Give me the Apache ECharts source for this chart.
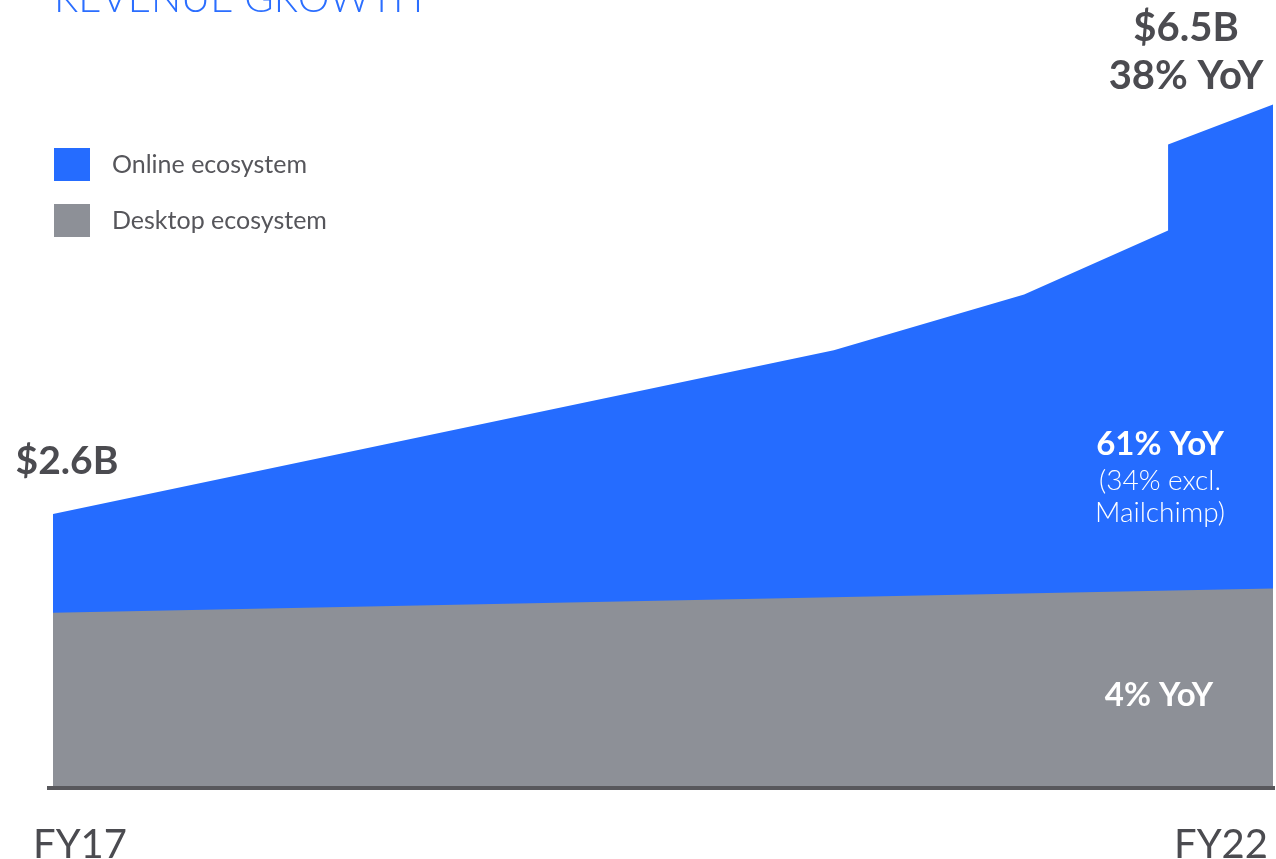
<!DOCTYPE html>
<html>
<head>
<meta charset="utf-8">
<title>Revenue Growth</title>
<script src="https://cdn.jsdelivr.net/npm/echarts@6/dist/echarts.min.js"></script>
<style>
  html, body { margin: 0; padding: 0; background: #ffffff; }
  #chart { width: 1276px; height: 859px; }
</style>
</head>
<body>
<div id="chart"></div>
<script>
// Fiscal-year positions of the outline points (two points share FY21.57: the Mailchimp step)
const fiscalYears = [2017.0, 2020.2, 2020.98, 2021.57, 2021.57, 2022.0];
// Total revenue ($B): online + desktop stacked
const totalRevenue = [2.6, 4.16, 4.69, 5.30, 6.12, 6.5];
// Desktop ecosystem revenue ($B)
const desktopYears = [2017.0, 2022.0];
const desktopRevenue = [1.66, 1.89];
// Axis tick labels
const tickLabels = ['FY17', 'FY22'];
const tickPositions = [80, 1221];

const BLUE = '#256cff';
const GRAY = '#8d9097';
const INK = '#4b4b50';
const FONT = 'Lato, "Noto Sans", sans-serif';

const totalData = fiscalYears.map((x, i) => {
  const item = { value: [x, totalRevenue[i]] };
  if (i === 0) {
    item.label = {
      show: true, position: 'top', offset: [14, -28],
      formatter: p => '$' + p.value[1].toFixed(1) + 'B',
      fontFamily: FONT, fontSize: 39, fontWeight: 700, color: INK
    };
  }
  if (i === fiscalYears.length - 1) {
    item.label = {
      show: true, position: 'top', offset: [-87, 1],
      formatter: p => '$' + p.value[1].toFixed(1) + 'B\n38% YoY',
      fontFamily: FONT, fontSize: 40, fontWeight: 700, color: INK,
      lineHeight: 48, align: 'center'
    };
  }
  return item;
});
const desktopData = desktopYears.map((x, i) => [x, desktopRevenue[i]]);

const chart = echarts.init(document.getElementById('chart'), null, { renderer: 'canvas' });

chart.setOption({
  backgroundColor: '#ffffff',
  animation: false,
  grid: { left: 53, right: 3, top: 52, bottom: 72, containLabel: false },
  xAxis: {
    type: 'value', min: 2017, max: 2022,
    axisLine: { show: false }, axisTick: { show: false },
    axisLabel: { show: false }, splitLine: { show: false }
  },
  yAxis: {
    type: 'value', min: 0, max: 7,
    axisLine: { show: false }, axisTick: { show: false },
    axisLabel: { show: false }, splitLine: { show: false }
  },
  legend: {
    data: ['Online ecosystem', 'Desktop ecosystem'],
    orient: 'vertical', left: 54, top: 148, padding: 0,
    icon: 'rect', itemWidth: 36, itemHeight: 33, itemGap: 23,
    textStyle: { fontFamily: FONT, fontSize: 25, color: '#56565b', padding: [6, 0, 0, 17] },
    selectedMode: false
  },
  series: [
    {
      name: 'Online ecosystem', type: 'line', data: totalData,
      symbol: 'circle', symbolSize: 0, showSymbol: true,
      lineStyle: { width: 0 },
      itemStyle: { color: BLUE },
      areaStyle: { color: BLUE, opacity: 1 },
      z: 2
    },
    {
      name: 'Desktop ecosystem', type: 'line', data: desktopData,
      symbol: 'none', lineStyle: { width: 0 },
      itemStyle: { color: GRAY },
      areaStyle: { color: GRAY, opacity: 1 },
      z: 3
    }
  ],
  graphic: [
    {
      type: 'text', z: 10,
      style: { text: 'REVENUE GROWTH', x: 54, y: -1, verticalAlign: 'middle',
        font: '300 40px ' + FONT, fill: '#2b6eff' }
    },
    {
      type: 'rect', z: 10,
      shape: { x: 47, y: 786, width: 1228, height: 4 },
      style: { fill: '#58585c' }
    },
    ...tickLabels.map((t, i) => ({
      type: 'text', z: 10,
      style: { text: t, x: tickPositions[i], y: 845, align: 'center', verticalAlign: 'middle',
        font: '400 40px ' + FONT, fill: INK }
    })),
    {
      type: 'text', z: 10,
      style: { text: '61% YoY', x: 1160, y: 444, align: 'center', verticalAlign: 'middle',
        font: '700 33px ' + FONT, fill: '#ffffff' }
    },
    {
      type: 'text', z: 10,
      style: { text: '(34% excl.', x: 1160, y: 481, align: 'center', verticalAlign: 'middle',
        font: '300 28px ' + FONT, fill: '#ffffff' }
    },
    {
      type: 'text', z: 10,
      style: { text: 'Mailchimp)', x: 1160, y: 513, align: 'center', verticalAlign: 'middle',
        font: '300 28px ' + FONT, fill: '#ffffff' }
    },
    {
      type: 'text', z: 10,
      style: { text: '4% YoY', x: 1159, y: 695, align: 'center', verticalAlign: 'middle',
        font: '700 33px ' + FONT, fill: '#ffffff' }
    }
  ]
});
</script>
</body>
</html>
